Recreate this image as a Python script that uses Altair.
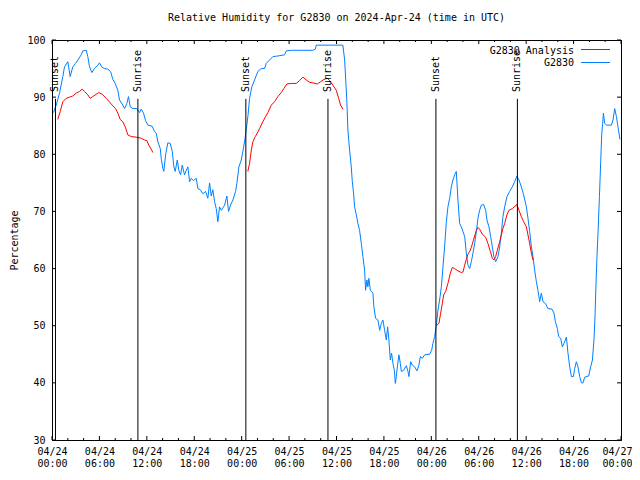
import altair as alt
import pandas as pd

FONT = "DejaVu Sans Mono"

# Observed G2830 relative humidity: hours since 2024-04-24 00:00 UTC, percent
obs_hours = [0.19,0.53,0.95,1.37,1.58,2.00,2.30,2.63,2.97,3.27,3.70,3.90,4.33,4.53,4.75,5.04,5.38,5.80,6.01,6.35,6.65,7.06,7.41,7.70,8.00,8.33,8.54,8.89,9.18,9.47,9.68,9.90,10.23,10.73,11.08,11.29,11.58,11.84,12.13,12.68,12.97,13.19,13.39,13.70,13.82,14.03,14.15,14.37,14.66,14.96,15.22,15.42,15.59,15.85,16.05,16.27,16.48,16.77,16.99,17.19,17.41,17.62,17.91,18.25,18.46,18.76,19.09,19.43,19.72,19.94,20.15,20.35,20.57,20.78,20.99,21.20,21.42,21.84,22.13,22.34,22.59,22.89,23.23,23.39,23.65,23.95,24.15,24.40,24.60,24.80,25.00,25.29,25.63,26.05,26.48,26.90,27.11,27.53,27.95,28.58,29.43,29.65,30.28,31.54,33.01,33.32,33.44,36.81,37.03,37.24,37.32,37.44,37.66,37.87,38.00,38.16,38.29,38.51,38.71,38.92,39.14,39.34,39.56,39.68,39.85,39.97,40.10,40.28,40.61,40.73,40.95,41.24,41.46,41.67,41.87,42.09,42.30,42.47,42.63,42.81,42.97,43.14,43.32,43.44,43.57,43.70,43.90,44.08,44.20,44.49,44.84,45.04,45.16,45.38,45.59,45.89,46.18,46.43,46.61,46.86,47.15,47.78,48.04,48.20,48.42,48.63,48.84,49.05,49.27,49.47,49.68,49.90,50.10,50.32,50.53,50.73,50.95,51.16,51.37,51.58,51.80,52.00,52.22,52.43,52.63,52.85,53.06,53.27,53.48,53.70,53.90,54.11,54.33,54.62,54.87,55.04,55.29,55.51,55.72,55.92,56.14,56.43,56.65,56.86,57.06,57.28,57.57,57.91,58.25,58.54,58.83,59.09,59.39,59.68,60.03,60.23,60.44,60.66,60.86,61.08,61.29,61.49,61.71,61.92,62.13,62.43,62.76,63.27,63.52,63.70,63.95,64.11,64.37,64.58,64.78,65.09,65.29,65.51,65.72,65.97,66.14,66.35,66.56,66.77,66.99,67.19,67.41,67.91,68.16,68.38,68.58,68.71,68.84,68.96,69.09,69.27,69.43,69.56,69.68,69.77,69.94,70.15,70.78,70.99,71.20,71.42,71.62,71.87]
obs_values = [87.3,88.6,90.7,93.6,95.3,96.2,93.6,95.3,95.9,96.5,97.4,98.1,98.2,97.1,95.3,94.3,95.0,95.6,96.0,95.2,95.0,94.9,94.5,93.1,92.4,91.2,89.5,88.8,88.0,88.9,90.1,88.3,88.0,88.0,87.3,87.9,87.2,85.9,85.1,84.9,84.0,83.7,82.2,81.0,79.3,77.5,77.0,79.9,82.0,81.9,80.5,77.8,77.0,79.0,77.2,76.4,78.1,76.4,77.2,77.8,75.2,75.8,75.4,75.8,74.0,73.8,73.1,73.5,72.3,75.0,72.7,73.8,71.7,70.5,68.2,70.8,70.2,71.1,72.7,70.0,71.1,72.0,73.5,74.9,77.8,79.0,80.5,82.5,84.5,86.8,89.8,91.8,93.0,94.5,95.0,95.0,95.9,96.5,97.1,97.2,97.4,98.1,98.2,98.2,98.2,98.4,99.1,99.1,96.5,91.2,88.9,84.2,80.7,77.8,75.2,73.2,70.8,69.4,67.9,66.7,64.4,62.1,59.7,56.2,58.0,56.8,58.3,56.2,55.7,53.3,51.3,51.0,49.2,50.4,51.0,49.2,47.5,49.8,47.5,44.0,45.2,43.4,42.2,39.9,41.1,42.8,44.9,43.4,42.0,42.2,43.0,42.0,41.1,43.7,43.1,42.8,42.1,43.1,44.6,44.3,44.9,45.0,45.7,46.9,48.1,50.0,52.7,54.5,56.8,60.3,63.8,68.2,70.8,72.3,74.3,75.5,76.4,77.0,72.0,67.9,67.3,66.5,65.6,62.7,60.6,60.0,61.2,62.7,64.4,66.5,68.8,70.2,71.1,71.2,70.2,68.5,67.3,65.6,63.8,62.1,61.2,62.1,63.8,66.2,69.1,70.8,72.6,73.5,74.3,75.2,76.2,75.5,74.3,72.9,70.8,68.8,66.5,63.8,62.1,59.7,57.7,56.2,54.2,55.7,54.2,53.9,53.0,52.9,52.2,50.7,49.5,48.1,47.8,46.3,46.9,48.0,45.2,42.8,41.1,41.1,42.5,43.7,42.8,41.1,40.0,40.0,41.0,41.2,42.8,44.0,47.5,51.6,57.4,62.1,66.2,72.6,78.7,83.4,85.4,87.2,85.4,85.1,85.1,86.0,88.0,86.6,84.8,82.6]

# G2830 Analysis, three separate segments
ana1_hours = [0.73,1.04,1.37,1.80,2.22,2.63,3.06,3.48,3.82,4.11,4.53,4.84,5.16,5.59,5.92,6.35,6.86,7.49,8.04,8.33,8.63,8.96,9.30,9.59,10.03,10.66,11.29,11.71,12.00,12.25,12.56,12.76]
ana1_values = [86.1,87.5,89.2,89.8,90.0,90.2,90.7,91.0,91.4,91.0,90.4,89.8,90.1,90.5,90.8,90.5,89.8,88.8,88.0,87.2,86.1,85.7,84.7,83.4,83.1,83.0,82.8,82.5,82.4,81.6,80.9,80.3]
ana2_hours = [24.78,25.00,25.22,25.42,25.72,25.97,26.27,26.68,26.99,27.32,27.75,28.16,28.58,29.01,29.34,29.72,30.28,30.91,31.33,31.75,32.18,32.59,33.01,33.57,33.99,34.41,34.84,35.13,35.54,35.97,36.27,36.52,36.81]
ana2_values = [77.0,78.4,80.7,82.2,83.1,83.7,84.5,85.7,86.5,87.3,88.6,89.2,90.1,90.8,91.5,92.3,92.4,92.4,92.9,93.5,93.0,92.6,92.5,92.3,92.7,93.1,93.3,92.9,92.1,91.2,89.8,88.6,87.9]
ana3_hours = [48.71,48.96,49.18,49.39,49.56,49.81,50.10,50.41,50.66,50.95,51.37,51.80,52.00,52.22,52.43,52.63,52.85,53.06,53.27,53.48,53.70,53.90,54.11,54.46,54.87,55.16,55.47,55.72,55.92,56.14,56.35,56.65,56.86,57.06,57.28,57.57,57.82,58.25,58.58,58.83,59.09,59.39,59.68,60.03,60.23,60.44,60.66,60.86]
ana3_values = [50.1,50.4,52.2,53.9,55.4,56.0,57.4,59.2,60.2,60.0,59.6,59.3,59.4,60.6,61.6,62.5,63.0,63.7,64.7,65.7,66.7,67.2,66.9,66.0,65.5,64.4,63.0,61.8,61.5,62.1,63.2,64.7,65.9,67.0,67.9,69.4,70.2,70.5,70.9,71.2,70.2,69.1,68.2,67.3,65.9,64.4,62.7,61.5]

# Sunset / sunrise markers (hours since start)
sun_hours = [0.44, 10.87, 24.53, 34.92, 48.58, 58.89]
sun_labels = ["Sunset", "Sunrise", "Sunset", "Sunrise", "Sunset", "Sunrise"]

x_major = [0, 6, 12, 18, 24, 30, 36, 42, 48, 54, 60, 66, 72]
x_minor = [h for h in range(0, 73, 2) if h % 6 != 0]
y_ticks = [30, 40, 50, 60, 70, 80, 90, 100]

title_text = "Relative Humidity for G2830 on 2024-Apr-24 (time in UTC)"
legend_labels = ["G2830 Analysis", "G2830"]
RED = "#ff0000"
BLUE = "#0080ff"

W, H = 569, 400

obs = pd.DataFrame({"h": obs_hours, "v": obs_values})
ana = pd.concat([
    pd.DataFrame({"h": ana1_hours, "v": ana1_values, "seg": 1}),
    pd.DataFrame({"h": ana2_hours, "v": ana2_values, "seg": 2}),
    pd.DataFrame({"h": ana3_hours, "v": ana3_values, "seg": 3}),
])
sun = pd.DataFrame({"h": sun_hours, "label": sun_labels})
xmaj = pd.DataFrame({"h": x_major})
xmin = pd.DataFrame({"h": x_minor})
yt = pd.DataFrame({"v": y_ticks})

xscale = alt.Scale(domain=[0, 72], nice=False, zero=False)
yscale = alt.Scale(domain=[30, 100], nice=False, zero=False)

x_axis = alt.Axis(
    values=x_major,
    labelExpr="['04/' + (24 + floor(datum.value / 24)), (datum.value % 24 < 10 ? '0' : '') + (datum.value % 24) + ':00']",
    ticks=False, tickSize=0, grid=False, labelPadding=6, labelLineHeight=12,
    labelFlush=False, labelOverlap=False, title=None,
    labelOffset={"condition": {"test": "datum.value == 72", "value": -4}, "value": 0},
    labelFont=FONT, labelFontSize=10, labelColor="black",
    domainColor="black",
)
y_axis = alt.Axis(
    values=y_ticks, ticks=False, tickSize=0, grid=False, labelPadding=7,
    labelFont=FONT, labelFontSize=10, labelColor="black", domainColor="black",
    title="Percentage", titleFont=FONT, titleFontSize=10, titleFontWeight="normal",
    titleColor="black", titleX=-38, titleY=H / 2, titleAngle=270,
    titleAlign="center", titleBaseline="middle",
)

X = alt.X("h:Q", scale=xscale, axis=x_axis)
Y = alt.Y("v:Q", scale=yscale, axis=y_axis)

blue_line = alt.Chart(obs).mark_line(color=BLUE, strokeWidth=1, clip=True).encode(x=X, y=Y)
red_line = alt.Chart(ana).mark_line(color=RED, strokeWidth=1, clip=True).encode(
    x=X, y=Y, detail="seg:N"
)

sun_rules = alt.Chart(sun).mark_rule(color="black", strokeWidth=1).encode(
    x=X, y=alt.datum(30, scale=yscale), y2=alt.datum(89.7)
)
sun_text = alt.Chart(sun).mark_text(
    angle=270, align="left", baseline="middle", font=FONT, fontSize=10, color="black"
).encode(x=X, y=alt.datum(90.9, scale=yscale), text="label:N")

tick_major_bottom = alt.Chart(xmaj).mark_rule(color="black", strokeWidth=1).encode(
    x=X, y=alt.value(H), y2=alt.value(H - 4))
tick_major_top = alt.Chart(xmaj).mark_rule(color="black", strokeWidth=1).encode(
    x=X, y=alt.value(0), y2=alt.value(4))
tick_minor_bottom = alt.Chart(xmin).mark_rule(color="black", strokeWidth=1).encode(
    x=X, y=alt.value(H), y2=alt.value(H - 2))
tick_minor_top = alt.Chart(xmin).mark_rule(color="black", strokeWidth=1).encode(
    x=X, y=alt.value(0), y2=alt.value(2))
tick_y_left = alt.Chart(yt).mark_rule(color="black", strokeWidth=1).encode(
    y=Y, x=alt.value(0), x2=alt.value(4))
tick_y_right = alt.Chart(yt).mark_rule(color="black", strokeWidth=1).encode(
    y=Y, x=alt.value(W - 4), x2=alt.value(W))

leg_df = pd.DataFrame({"label": legend_labels})
leg_text1 = alt.Chart(leg_df.iloc[[0]]).mark_text(
    align="right", baseline="middle", font=FONT, fontSize=10, color="black"
).encode(x=alt.value(522), y=alt.value(10.5), text="label:N")
leg_text2 = alt.Chart(leg_df.iloc[[1]]).mark_text(
    align="right", baseline="middle", font=FONT, fontSize=10, color="black"
).encode(x=alt.value(522), y=alt.value(23), text="label:N")
leg_line1 = alt.Chart(leg_df.iloc[[0]]).mark_rule(color=RED, strokeWidth=1).encode(
    x=alt.value(529), x2=alt.value(558), y=alt.value(9.5))
leg_line2 = alt.Chart(leg_df.iloc[[1]]).mark_rule(color=BLUE, strokeWidth=1).encode(
    x=alt.value(529), x2=alt.value(558), y=alt.value(22.5))

chart = alt.layer(
    blue_line, red_line, sun_rules, sun_text,
    tick_major_bottom, tick_major_top, tick_minor_bottom, tick_minor_top,
    tick_y_left, tick_y_right,
    leg_text1, leg_text2, leg_line1, leg_line2,
).properties(
    width=W, height=H,
    title=alt.TitleParams(title_text, font=FONT, fontSize=10, fontWeight="normal",
                          color="black", anchor="middle", baseline="middle",
                          frame="group", offset=7),
    padding={"left": 44, "top": 32, "right": 11, "bottom": 32},
    autosize=alt.AutoSizeParams(type="none"),
    background="white",
).configure_view(stroke="black", strokeWidth=1)

chart.save("out.html", embed_options={"renderer": "svg", "actions": False})
